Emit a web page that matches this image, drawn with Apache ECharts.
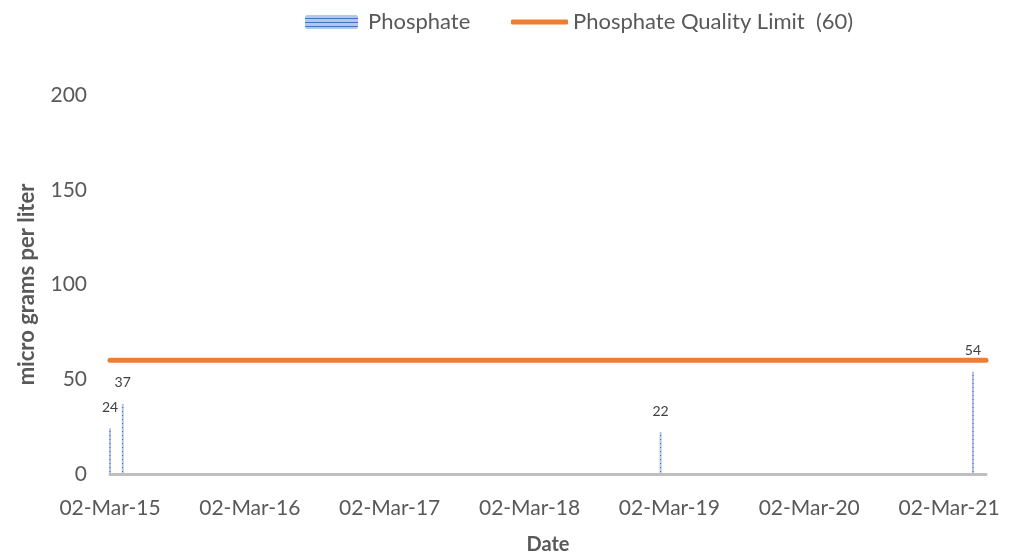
<!DOCTYPE html>
<html><head><meta charset="utf-8">
<script src="https://cdn.jsdelivr.net/npm/echarts@6/dist/echarts.min.js"></script>
<style>html,body{margin:0;padding:0;background:#fff}#chart{width:1033px;height:560px}</style>
</head><body><div id="chart"></div>
<script>
// ---- data ----
const sampleDates = ['2015-03-02', '2015-04-04', '2019-02-07', '2021-05-03'];
const phosphateValues = [24, 37, 22, 54];
const seriesNames = ['Phosphate', 'Phosphate Quality Limit  (60)'];
const limitValue = 60;
const axisStartDate = '2015-03-02';
const axisEndDate = '2021-06-06';
const xTickLabels = ['02-Mar-15', '02-Mar-16', '02-Mar-17', '02-Mar-18', '02-Mar-19', '02-Mar-20', '02-Mar-21'];
const yTickValues = [0, 50, 100, 150, 200];

// ---- helpers ----
const DAY = 86400000;
const YEAR_DAYS = 365.25;
function dayOffset(s) {
  return Math.round((Date.parse(s + 'T00:00:00Z') - Date.parse(axisStartDate + 'T00:00:00Z')) / DAY);
}
const FONT = 'Lato';
const TXT = '#595959';

const chart = echarts.init(document.getElementById('chart'), null, {renderer: 'canvas'});
chart.setOption({
  animation: false,
  backgroundColor: '#ffffff',
  textStyle: {fontFamily: FONT},
  legend: [
    {
      data: [seriesNames[0]], left: 300, top: 6,
      itemWidth: 53, itemHeight: 14,
      textStyle: {fontFamily: FONT, fontSize: 22, color: TXT, padding: [0, 0, 0, 5]}
    },
    {
      data: [seriesNames[1]], left: 506, top: 6,
      icon: 'roundRect', itemWidth: 57, itemHeight: 5,
      textStyle: {fontFamily: FONT, fontSize: 22, color: TXT}
    }
  ],
  grid: {left: 110, right: 47, top: 95, bottom: 82, containLabel: false},
  xAxis: {
    type: 'value',
    min: 0,
    max: dayOffset(axisEndDate),
    interval: YEAR_DAYS,
    name: 'Date',
    nameLocation: 'middle',
    nameGap: 61,
    nameTextStyle: {fontFamily: FONT, fontWeight: 'bold', fontSize: 20, color: TXT},
    axisLine: {show: true, lineStyle: {color: '#bfbfbf', width: 3}},
    axisTick: {show: false},
    splitLine: {show: false},
    axisLabel: {
      fontFamily: FONT, fontSize: 21, color: TXT, margin: 24,
      showMaxLabel: false,
      formatter: function (v) {
        const i = v / YEAR_DAYS, r = Math.round(i);
        if (Math.abs(i - r) < 0.01 && r >= 0 && r < xTickLabels.length) return xTickLabels[r];
        return '';
      }
    }
  },
  yAxis: {
    type: 'value',
    min: yTickValues[0],
    max: yTickValues[yTickValues.length - 1],
    interval: yTickValues[1] - yTickValues[0],
    name: 'micro grams per liter',
    nameLocation: 'middle',
    nameRotate: 90,
    nameGap: 72,
    nameTextStyle: {fontFamily: FONT, fontWeight: 'bold', fontSize: 22, color: TXT},
    axisLine: {show: false},
    axisTick: {show: false},
    splitLine: {show: false},
    axisLabel: {fontFamily: FONT, fontSize: 21, color: TXT, margin: 23}
  },
  series: [
    {
      name: seriesNames[0],
      type: 'bar',
      barWidth: 1.5,
      z: 3,
      data: sampleDates.map((d, i) => [dayOffset(d), phosphateValues[i]]),
      itemStyle: {
        color: '#4472C4',
        decal: {symbol: 'rect', symbolSize: 1, dashArrayX: [1, 0], dashArrayY: [3, 1], color: 'rgba(255,255,255,0.6)', rotation: 0}
      },
      label: {show: true, position: 'top', distance: 14, fontFamily: FONT, fontSize: 14, color: '#404040'}
    },
    {
      name: seriesNames[1],
      type: 'line',
      showSymbol: false,
      symbol: 'none',
      z: 4,
      data: [[dayOffset(axisStartDate), limitValue], [dayOffset(axisEndDate), limitValue]],
      lineStyle: {color: '#ED7D31', width: 5, cap: 'round'},
      itemStyle: {color: '#ED7D31'}
    }
  ]
});
</script>
</body></html>
